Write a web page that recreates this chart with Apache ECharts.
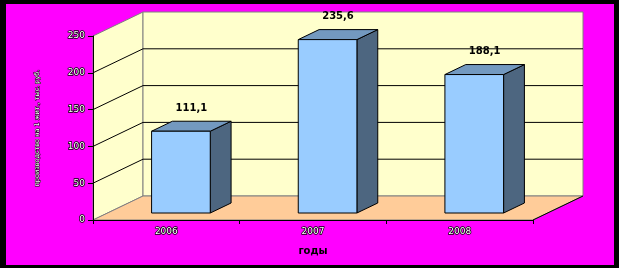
<!DOCTYPE html>
<html>
<head>
<meta charset="utf-8">
<script src="https://cdn.jsdelivr.net/npm/echarts@6/dist/echarts.min.js"></script>
<style>
  html, body { margin: 0; padding: 0; background: #000; }
  #chart { width: 619px; height: 268px; }
</style>
</head>
<body>
<div id="chart"></div>
<script>
const years = ['2006', '2007', '2008'];
const values = [111.1, 235.6, 188.1];
const yTicks = [0, 50, 100, 150, 200, 250];
const yTitle = 'производство на 1 жит., тыс. руб.';
const xTitle = 'годы';

// depth of the 3d box (px), and where the bars sit inside it
const DX = 50, DY = -24;
const barFront = 7 / 24, barDepth = 10 / 24;
const font = 'DejaVu Sans';

const chart = echarts.init(document.getElementById('chart'));

const whiteText = {
    color: '#fff',
    fontSize: 9,
    fontFamily: font,
    textBorderColor: '#000',
    textBorderWidth: 1.5
};

function renderWalls(params, api) {
    const cs = params.coordSys;
    const x0 = cs.x, y0 = cs.y, w = cs.width, h = cs.height;
    const yb = y0 + h;
    const children = [
        {
            type: 'polygon',
            shape: { points: [[x0, yb], [x0, y0], [x0 + DX, y0 + DY], [x0 + DX, yb + DY]] },
            style: { fill: '#FFFFCC', stroke: '#808080', lineWidth: 1 }
        },
        {
            type: 'rect',
            shape: { x: x0 + DX, y: y0 + DY, width: w, height: h },
            style: { fill: '#FFFFCC', stroke: '#808080', lineWidth: 1 }
        },
        {
            type: 'polygon',
            shape: { points: [[x0, yb], [x0 + w, yb], [x0 + w + DX, yb + DY], [x0 + DX, yb + DY]] },
            style: { fill: '#FFCC99', stroke: '#808080', lineWidth: 1 }
        },
        {
            type: 'line',
            shape: { x1: x0 + w, y1: yb, x2: x0 + w + DX, y2: yb + DY },
            style: { stroke: '#000', lineWidth: 1 }
        }
    ];
    yTicks.slice(1, -1).forEach(function (v) {
        const y = api.coord([0, v])[1];
        children.push({
            type: 'polyline',
            shape: { points: [[x0, y], [x0 + DX, y + DY], [x0 + w + DX, y + DY]] },
            style: { stroke: '#000', lineWidth: 1, fill: null }
        });
    });
    return { type: 'group', children: children };
}

function renderBar(params, api) {
    const idx = api.value(0);
    const val = api.value(1);
    const base = api.coord([idx, 0]);
    const band = api.size([1, 0])[0];
    const bw = band * 0.4;
    const fx = base[0] + DX * barFront - bw / 2;
    const fy0 = base[1] + DY * barFront;
    const top = api.coord([idx, val])[1] + DY * barFront;
    const ddx = DX * barDepth, ddy = DY * barDepth;
    return {
        type: 'group',
        children: [
            {
                type: 'polygon',
                shape: { points: [[fx + bw, top], [fx + bw + ddx, top + ddy], [fx + bw + ddx, fy0 + ddy], [fx + bw, fy0]] },
                style: { fill: '#4D6680', stroke: '#000', lineWidth: 1 }
            },
            {
                type: 'polygon',
                shape: { points: [[fx, top], [fx + ddx, top + ddy], [fx + bw + ddx, top + ddy], [fx + bw, top]] },
                style: { fill: '#7399C0', stroke: '#000', lineWidth: 1 }
            },
            {
                type: 'rect',
                shape: { x: fx, y: top, width: bw, height: fy0 - top },
                style: { fill: '#99CCFF', stroke: '#000', lineWidth: 1 }
            },
            {
                type: 'text',
                style: {
                    x: fx + bw / 2 + ddx / 2,
                    y: top + ddy - 8,
                    text: String(val).replace('.', ','),
                    fill: '#000',
                    fontSize: 10,
                    fontWeight: 'bold',
                    fontFamily: font,
                    align: 'center',
                    verticalAlign: 'bottom'
                }
            }
        ]
    };
}

const option = {
    backgroundColor: '#000',
    animation: false,
    graphic: [
        {
            type: 'rect',
            shape: { x: 6, y: 4, width: 608, height: 261 },
            style: { fill: '#FF00FF' },
            z: -10
        }
    ],
    grid: { left: 93, right: 86, top: 36, bottom: 48 },
    xAxis: {
        type: 'category',
        data: years,
        z: 10,
        axisLine: { lineStyle: { color: '#000', width: 1 } },
        axisTick: { show: true, length: 4, lineStyle: { color: '#000' } },
        axisLabel: Object.assign({ margin: 7 }, whiteText),
        name: xTitle,
        nameLocation: 'middle',
        nameGap: 26,
        nameTextStyle: { color: '#000', fontSize: 10, fontWeight: 'bold', fontFamily: font }
    },
    yAxis: {
        type: 'value',
        min: 0,
        max: 250,
        interval: 50,
        z: 10,
        splitLine: { show: false },
        axisLine: { show: true, lineStyle: { color: '#000', width: 1 } },
        axisTick: { show: true, length: 5, lineStyle: { color: '#000' } },
        axisLabel: Object.assign({ margin: 8 }, whiteText),
        name: yTitle,
        nameLocation: 'middle',
        nameGap: 52,
        nameTextStyle: Object.assign({}, whiteText, { fontSize: 6.5, textBorderWidth: 1 })
    },
    series: [
        {
            type: 'custom',
            renderItem: renderWalls,
            data: [[0, 0]],
            z: 1,
            silent: true
        },
        {
            type: 'custom',
            renderItem: renderBar,
            data: years.map(function (y, i) { return [i, values[i]]; }),
            z: 3
        }
    ]
};

chart.setOption(option);
</script>
</body>
</html>
